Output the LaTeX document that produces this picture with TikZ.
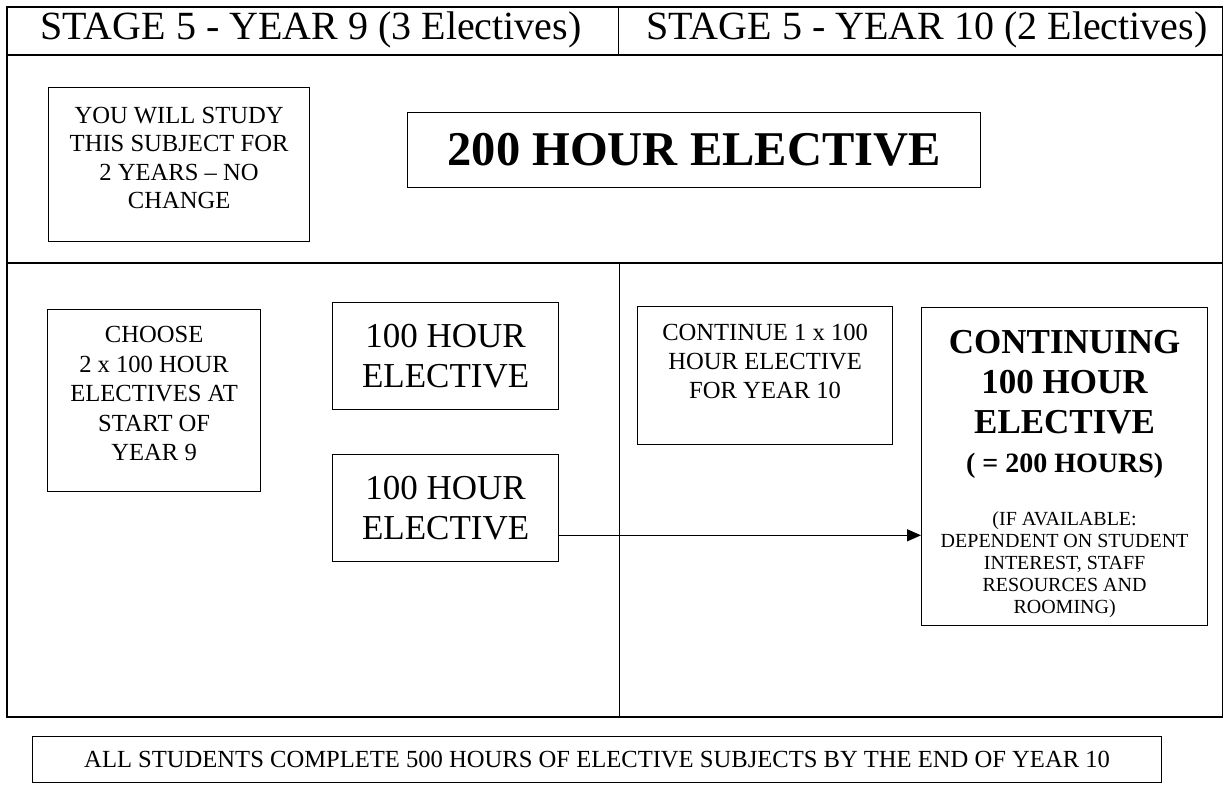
\documentclass[tikz,border=0pt]{standalone}
\usepackage{fontspec}
\setmainfont{Liberation Serif}
\usepackage{tikz}
\usetikzlibrary{positioning,arrows.meta}

\begin{document}
\begin{tikzpicture}[x=1pt,y=-1pt,>={Triangle[length=14pt,width=12pt]},
	frame/.style={line width=1.7pt},
	divider/.style={line width=1pt},
	box/.style={draw,line width=1.2pt,inner sep=0pt,align=flush center},
	head/.style={anchor=base,font=\fontsize{40}{46}\selectfont},
	small/.style={font=\fontsize{24.6}{29}\selectfont}]
	\useasboundingbox (0,0) rectangle (1225,788);

	\draw[frame] (7,7) rectangle (1222.5,717);
	\draw[frame] (7,55) -- (1222.5,55);
	\draw[frame] (7,263) -- (1222.5,263);
	\draw[divider] (618,7) -- (618,55);
	\draw[divider] (619,263) -- (619,717);

	\node[head] (hdnine) at (311,39) {STAGE 5 - YEAR 9 (3 Electives)};
	\node[head] (hdten) at (927,39) {STAGE 5 - YEAR 10 (2 Electives)};

	\node[box,anchor=north west,text width=261pt,text height=36pt,text depth=118pt,
		font=\fontsize{24.6}{28.3}\selectfont] (study) at (48,87)
		{YOU WILL STUDY\\THIS SUBJECT FOR\\2 YEARS -- NO\\CHANGE};
	\node[box,anchor=north west,minimum width=573pt,minimum height=75pt,
		font=\bfseries\fontsize{48.5}{54}\selectfont] (twohundred) at (407,112) {200 HOUR ELECTIVE};

	\node[box,anchor=north west,text width=213pt,text height=33pt,text depth=149pt,
		font=\fontsize{24.6}{29.5}\selectfont] (choose) at (47,309)
		{CHOOSE\\2 x 100 HOUR\\ELECTIVES AT\\START OF\\YEAR 9};
	\node[box,anchor=north west,minimum width=226pt,minimum height=107pt,
		font=\fontsize{35}{40}\selectfont] (elecone) at (332,302) {100 HOUR\\ELECTIVE};
	\node[box,minimum width=226pt,minimum height=107pt,
		font=\fontsize{35}{40}\selectfont] (electwo) [below=44pt of elecone] {100 HOUR\\ELECTIVE};

	\node[box,small,anchor=north west,text width=255pt,text height=34pt,text depth=104pt] (cont) at (637,306)
		{CONTINUE 1 x 100\\HOUR ELECTIVE\\FOR YEAR 10};
	\node[box,anchor=north west,text width=286pt,text height=46pt,text depth=272pt] (contg) at (921,307)
		{{\bfseries\fontsize{35}{40}\selectfont CONTINUING\\100 HOUR\\ELECTIVE\par}
		{\bfseries\fontsize{28}{39}\selectfont ( = 200 HOURS)\par}
		\vspace{31pt}
		{\fontsize{20}{22}\selectfont (IF AVAILABLE:\\DEPENDENT ON STUDENT\\INTEREST, STAFF\\RESOURCES AND\\ROOMING)\par}};

	\node[box,small,anchor=north west,minimum width=1129pt,minimum height=46pt] (note) at (32,736)
		{ALL STUDENTS COMPLETE 500 HOURS OF ELECTIVE SUBJECTS BY THE END OF YEAR 10};

	\draw[->,line width=1.3pt] ([yshift=-27pt]electwo.east) coordinate (arrowstart) -- (arrowstart -| contg.west);
\end{tikzpicture}
\end{document}
